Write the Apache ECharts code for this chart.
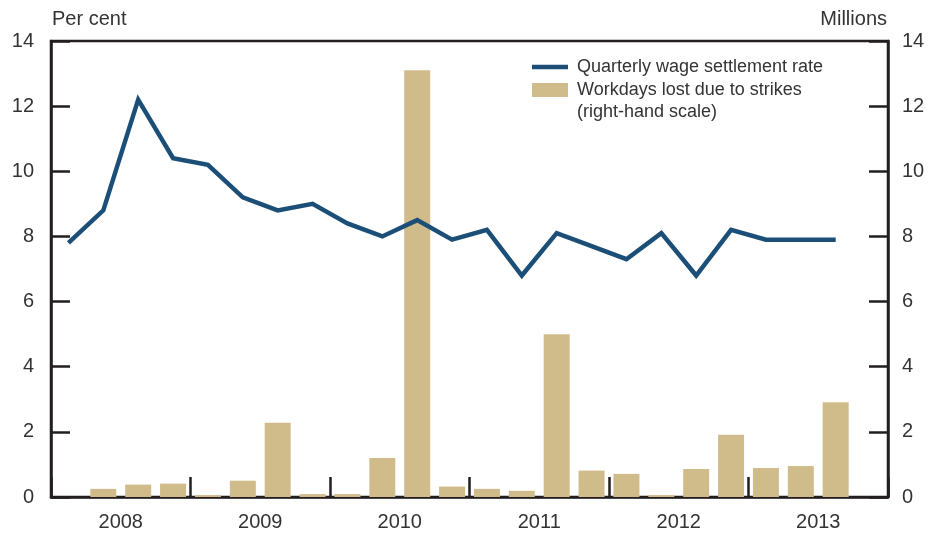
<!DOCTYPE html>
<html>
<head>
<meta charset="utf-8">
<script src="https://cdn.jsdelivr.net/npm/echarts@6/dist/echarts.min.js"></script>
<style>html,body{margin:0;padding:0;background:#fff;}#c{width:931px;height:533px;}</style>
</head>
<body>
<div id="c"></div>
<script>
const quarters = [
  '2008Q1','2008Q2','2008Q3','2008Q4',
  '2009Q1','2009Q2','2009Q3','2009Q4',
  '2010Q1','2010Q2','2010Q3','2010Q4',
  '2011Q1','2011Q2','2011Q3','2011Q4',
  '2012Q1','2012Q2','2012Q3','2012Q4',
  '2013Q1','2013Q2','2013Q3','2013Q4'
];
const years = ['2008','2009','2010','2011','2012','2013'];
const wageRate = [
  7.8, 8.8, 12.2, 10.4,
  10.2, 9.2, 8.8, 9.0,
  8.4, 8.0, 8.5, 7.9,
  8.2, 6.8, 8.1, 7.7,
  7.3, 8.1, 6.8, 8.2,
  7.9, 7.9, 7.9, null
];
const workdaysLost = [
  null, 0.25, 0.38, 0.41,
  0.06, 0.50, 2.28, 0.09,
  0.09, 1.20, 13.1, 0.32,
  0.25, 0.19, 5.0, 0.81,
  0.71, 0.06, 0.86, 1.91,
  0.89, 0.95, 2.91, null
];
const yTicks = [0, 2, 4, 6, 8, 10, 12, 14];

const axisColor = '#231f20';
const textColor = '#333333';
const fontFamily = '"Liberation Sans", Arial, Helvetica, sans-serif';

const chart = echarts.init(document.getElementById('c'), null, {renderer: 'canvas'});

function yAxisDef(pos, name) {
  return {
    type: 'value',
    position: pos,
    min: yTicks[0],
    max: yTicks[yTicks.length - 1],
    interval: 2,
    name: name,
    nameLocation: 'end',
    nameGap: 12,
    nameTextStyle: {
      color: textColor, fontSize: 20, fontFamily: fontFamily,
      align: pos === 'left' ? 'left' : 'right',
      padding: pos === 'left' ? [0, 0, 0, 1] : [0, 1, 0, 0]
    },
    axisLine: {show: true, lineStyle: {color: axisColor, width: 2.5}},
    axisTick: {show: true, inside: true, length: 19, lineStyle: {color: axisColor, width: 2.5}},
    axisLabel: {color: textColor, fontSize: 20, fontFamily: fontFamily, margin: pos === 'left' ? 17 : 14},
    splitLine: {show: false}
  };
}

chart.setOption({
  animation: false,
  backgroundColor: '#ffffff',
  textStyle: {fontFamily: fontFamily},
  grid: {
    left: 51, right: 43, top: 41, bottom: 36,
    show: true, borderColor: axisColor, borderWidth: 2.5, backgroundColor: 'transparent'
  },
  legend: [
    {
      data: ['Quarterly wage settlement rate'],
      left: 527, top: 53,
      icon: 'rect', itemWidth: 36, itemHeight: 4.5, itemGap: 0,
      textStyle: {color: textColor, fontSize: 18, fontFamily: fontFamily, padding: [0, 0, 0, 4]},
      selectedMode: false
    },
    {
      data: ['Workdays lost due to strikes'],
      left: 527, top: 76,
      icon: 'rect', itemWidth: 36, itemHeight: 14, itemGap: 0,
      textStyle: {color: textColor, fontSize: 18, fontFamily: fontFamily, padding: [0, 0, 0, 4]},
      selectedMode: false
    }
  ],
  graphic: [
    {
      type: 'text', left: 577, top: 103,
      style: {text: '(right-hand scale)', fill: textColor, font: '18px ' + fontFamily}
    }
  ],
  xAxis: [
    {
      type: 'category', data: quarters, boundaryGap: true, show: false
    },
    {
      type: 'category', data: years, boundaryGap: true, position: 'bottom',
      axisLine: {show: true, lineStyle: {color: axisColor, width: 2.5}},
      axisTick: {show: true, inside: true, length: 20, alignWithLabel: false, lineStyle: {color: axisColor, width: 2.5}},
      axisLabel: {color: textColor, fontSize: 20, fontFamily: fontFamily, margin: 15},
      splitLine: {show: false}
    }
  ],
  yAxis: [yAxisDef('left', 'Per cent'), yAxisDef('right', 'Millions')],
  series: [
    {
      name: 'Workdays lost due to strikes',
      type: 'bar',
      xAxisIndex: 0, yAxisIndex: 1,
      data: workdaysLost,
      barWidth: 26,
      itemStyle: {color: '#d0bb8b'},
      z: 2
    },
    {
      name: 'Quarterly wage settlement rate',
      type: 'line',
      xAxisIndex: 0, yAxisIndex: 0,
      data: wageRate,
      symbol: 'none',
      lineStyle: {color: '#1c4f78', width: 4.5, join: 'miter'},
      itemStyle: {color: '#1c4f78'},
      z: 3
    }
  ]
});
</script>
</body>
</html>
